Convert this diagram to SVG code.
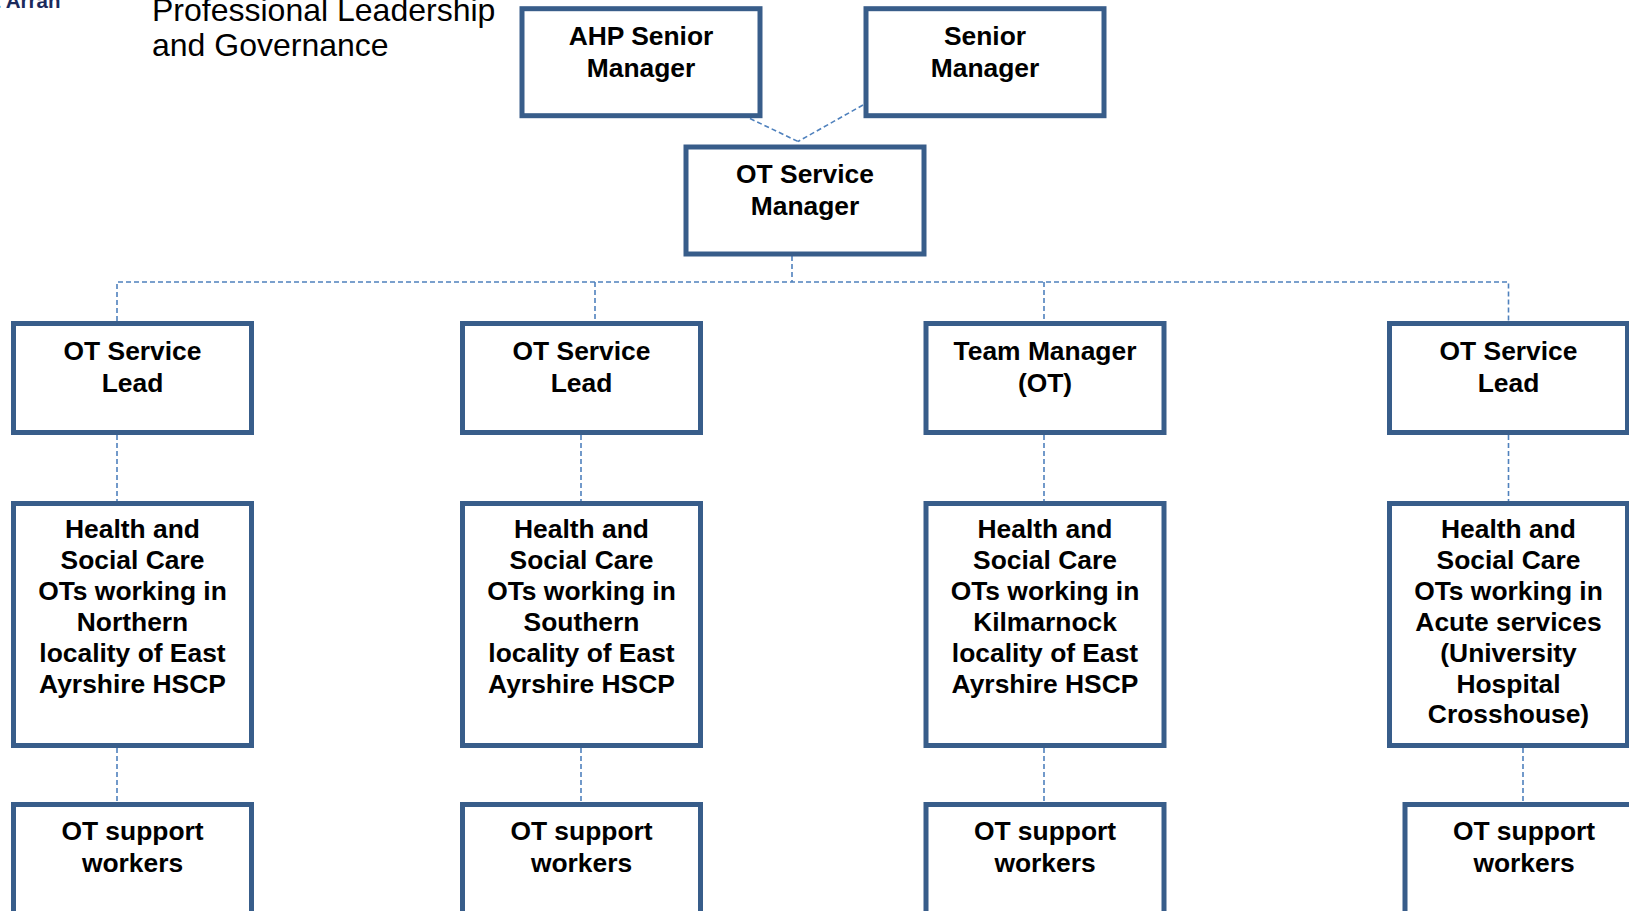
<svg xmlns="http://www.w3.org/2000/svg" width="1629" height="911" viewBox="0 0 1629 911">
<style>
.box{fill:#fff;stroke:#385D8A;stroke-width:5}
.t{font-family:"Liberation Sans",Arial,sans-serif;font-weight:bold;font-size:26.4px;fill:#000;text-anchor:middle}
.title{font-family:"Liberation Sans",Arial,sans-serif;font-size:32px;fill:#000}
.logo{font-family:"Liberation Sans",Arial,sans-serif;font-weight:bold;font-size:20.5px;fill:#1B2A5C}
.c{fill:none;stroke:#4F81BD;stroke-width:1.6;stroke-dasharray:5 3}
</style>
<rect width="1629" height="911" fill="#fff"/>
<text class="logo" x="-14" y="8">&amp; Arran</text>
<text class="title" x="152" y="21">Professional Leadership</text>
<text class="title" x="152" y="56">and Governance</text>
<g id="connectors">
<path class="c" d="M750,118.5 L798,141.5"/>
<path class="c" d="M863,105 L798,141.5"/>
<path class="c" d="M792,256 V282"/>
<path class="c" d="M117,321 V282 H1508.5 V321"/>
<path class="c" d="M595,282 V321"/>
<path class="c" d="M1044,282 V321"/>
<path class="c" d="M117,435 V501"/>
<path class="c" d="M581,435 V501"/>
<path class="c" d="M1044,435 V501"/>
<path class="c" d="M1508.5,435 V501"/>
<path class="c" d="M117,748 V802"/>
<path class="c" d="M581,748 V802"/>
<path class="c" d="M1044,748 V802"/>
<path class="c" d="M1523,748 V802"/>
</g>
<g id="ahp-senior-manager">
<rect class="box" x="522" y="8.7" width="238" height="107"/>
<text class="t" x="641" y="44.5">AHP Senior</text>
<text class="t" x="641" y="76.5">Manager</text>
</g>
<g id="senior-manager">
<rect class="box" x="866" y="8.7" width="238" height="107"/>
<text class="t" x="985" y="44.5">Senior</text>
<text class="t" x="985" y="76.5">Manager</text>
</g>
<g id="ot-service-manager">
<rect class="box" x="686" y="147" width="238" height="107"/>
<text class="t" x="805" y="182.5">OT Service</text>
<text class="t" x="805" y="214.5">Manager</text>
</g>
<g id="lead-1">
<rect class="box" x="13.5" y="323.5" width="238" height="109"/>
<text class="t" x="132.5" y="360">OT Service</text>
<text class="t" x="132.5" y="392">Lead</text>
</g>
<g id="lead-2">
<rect class="box" x="462.5" y="323.5" width="238" height="109"/>
<text class="t" x="581.5" y="360">OT Service</text>
<text class="t" x="581.5" y="392">Lead</text>
</g>
<g id="team-manager">
<rect class="box" x="926" y="323.5" width="238" height="109"/>
<text class="t" x="1045" y="360">Team Manager</text>
<text class="t" x="1045" y="392">(OT)</text>
</g>
<g id="lead-4">
<rect class="box" x="1389.5" y="323.5" width="238" height="109"/>
<text class="t" x="1508.5" y="360">OT Service</text>
<text class="t" x="1508.5" y="392">Lead</text>
</g>
<g id="northern">
<rect class="box" x="13.5" y="503.5" width="238" height="242"/>
<text class="t" x="132.5" y="537.5">Health and</text>
<text class="t" x="132.5" y="568.5">Social Care</text>
<text class="t" x="132.5" y="599.5">OTs working in</text>
<text class="t" x="132.5" y="630.5">Northern</text>
<text class="t" x="132.5" y="661.5">locality of East</text>
<text class="t" x="132.5" y="692.5">Ayrshire HSCP</text>
</g>
<g id="southern">
<rect class="box" x="462.5" y="503.5" width="238" height="242"/>
<text class="t" x="581.5" y="537.5">Health and</text>
<text class="t" x="581.5" y="568.5">Social Care</text>
<text class="t" x="581.5" y="599.5">OTs working in</text>
<text class="t" x="581.5" y="630.5">Southern</text>
<text class="t" x="581.5" y="661.5">locality of East</text>
<text class="t" x="581.5" y="692.5">Ayrshire HSCP</text>
</g>
<g id="kilmarnock">
<rect class="box" x="926" y="503.5" width="238" height="242"/>
<text class="t" x="1045" y="537.5">Health and</text>
<text class="t" x="1045" y="568.5">Social Care</text>
<text class="t" x="1045" y="599.5">OTs working in</text>
<text class="t" x="1045" y="630.5">Kilmarnock</text>
<text class="t" x="1045" y="661.5">locality of East</text>
<text class="t" x="1045" y="692.5">Ayrshire HSCP</text>
</g>
<g id="acute">
<rect class="box" x="1389.5" y="503.5" width="238" height="242"/>
<text class="t" x="1508.5" y="537.5">Health and</text>
<text class="t" x="1508.5" y="568.5">Social Care</text>
<text class="t" x="1508.5" y="599.5">OTs working in</text>
<text class="t" x="1508.5" y="630.5">Acute services</text>
<text class="t" x="1508.5" y="661.5">(University</text>
<text class="t" x="1508.5" y="692.5">Hospital</text>
<text class="t" x="1508.5" y="723">Crosshouse)</text>
</g>
<g id="support-1">
<rect class="box" x="13.5" y="804.5" width="238" height="120"/>
<text class="t" x="132.5" y="840">OT support</text>
<text class="t" x="132.5" y="872">workers</text>
</g>
<g id="support-2">
<rect class="box" x="462.5" y="804.5" width="238" height="120"/>
<text class="t" x="581.5" y="840">OT support</text>
<text class="t" x="581.5" y="872">workers</text>
</g>
<g id="support-3">
<rect class="box" x="926" y="804.5" width="238" height="120"/>
<text class="t" x="1045" y="840">OT support</text>
<text class="t" x="1045" y="872">workers</text>
</g>
<g id="support-4">
<rect class="box" x="1405" y="804.5" width="238" height="120"/>
<text class="t" x="1524" y="840">OT support</text>
<text class="t" x="1524" y="872">workers</text>
</g>
</svg>
